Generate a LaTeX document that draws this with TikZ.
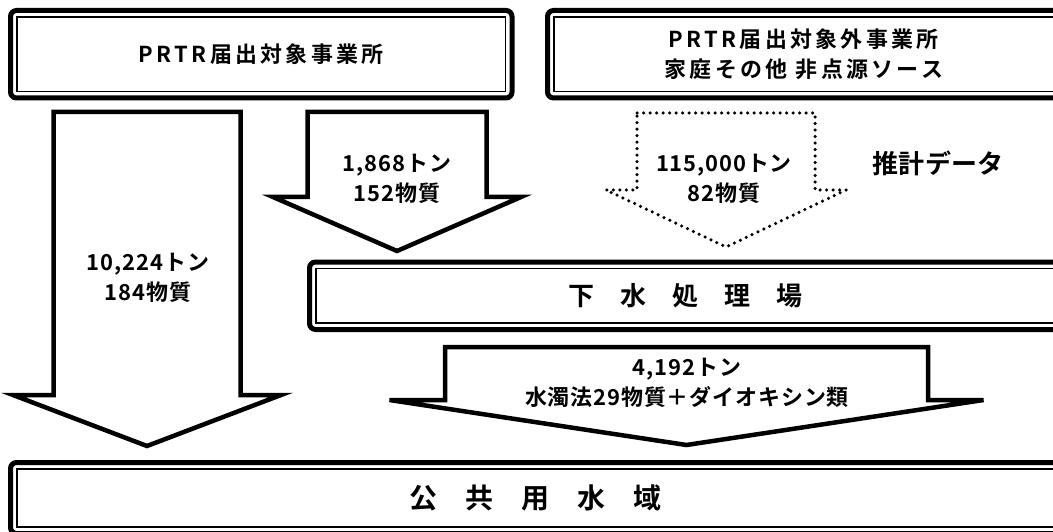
\documentclass[tikz,border=0pt]{standalone}
\usepackage{fontspec}
\setmainfont{Noto Sans CJK JP}[BoldFont={* Bold}]
\newfontfamily\titlefont{Noto Sans CJK JP}[BoldFont={* Bold},LetterSpace=15]
\newfontfamily\qtyfont{Noto Sans CJK JP}[BoldFont={* Bold},LetterSpace=4]
\usetikzlibrary{fit}

\begin{document}
\begin{tikzpicture}[x=0.2mm,y=-0.2mm,font=\bfseries,inner/.style={draw, line width=0.3mm, inner sep=0pt, outer sep=0pt},outer/.style={line width=1mm, rounded corners=1.2mm},title/.style={align=center, font=\titlefont\bfseries\fontsize{12.5}{17}\selectfont},arrowline/.style={line width=0.9mm},dotline/.style={line width=0.7mm, line cap=round, dash pattern=on 0pt off 1.3mm},qty/.style={align=center, font=\qtyfont\bfseries\fontsize{12.5}{17}\selectfont},big/.style={font=\bfseries\fontsize{14.8}{18}\selectfont},huge/.style={font=\bfseries\fontsize{15.9}{19}\selectfont}]
\newcommand{\frameBox}[5][]{\node[inner,fit={#3 #4}] (#2) {};\draw[outer] ([shift={(-6.5,-6.5)}]#2.north west) rectangle ([shift={(6.5,6.5)}]#2.south east);\node[title,#1] (#2Text) at (#2.center) {#5};}
\newcommand{\blockArrow}[7][]{\draw[arrowline,#1] (#2-#3,#4) -- (#2+#3,#4) -- (#2+#3,#5) -- (#2+#6,#5) -- (#2,#7) -- (#2-#6,#5) -- (#2-#3,#5) -- cycle;}
\useasboundingbox (0,0) rectangle (1053,532);
\clip (0,0) rectangle (1053,532);
\frameBox{fac}{(17,17)}{(505.5,91.5)}{PRTR届出対象事業所}
\frameBox{other}{(554,17)}{(1053.5,91.5)}{PRTR届出対象外事業所\\家庭その他 非点源ソース}
\frameBox[big]{plant}{(316,268.5)}{(1054.5,323)}{下　水　処　理　場}
\frameBox[huge]{water}{(17,469)}{(1053.5,527)}{公　共　用　水　域}
\blockArrow{147}{93.5}{112}{395}{134}{446}
\blockArrow{397}{89.5}{112}{197}{124}{251}
\blockArrow[dotline]{726}{89}{113}{190}{120}{247}
\blockArrow{686.5}{241.5}{347}{400}{297}{445}
\node[qty] (directQty) at (148,278) {10,224トン\\184物質};
\node[qty] (sewerQty) at (397,178.5) {1,868トン\\152物質};
\node[qty] (estQty) at (724,179) {115,000トン\\82物質};
\node[big] (estNote) at (938,163) {推計データ};
\node[qty] (outQty) at (687,382.5) {4,192トン\\水濁法29物質＋ダイオキシン類};
\end{tikzpicture}
\end{document}
